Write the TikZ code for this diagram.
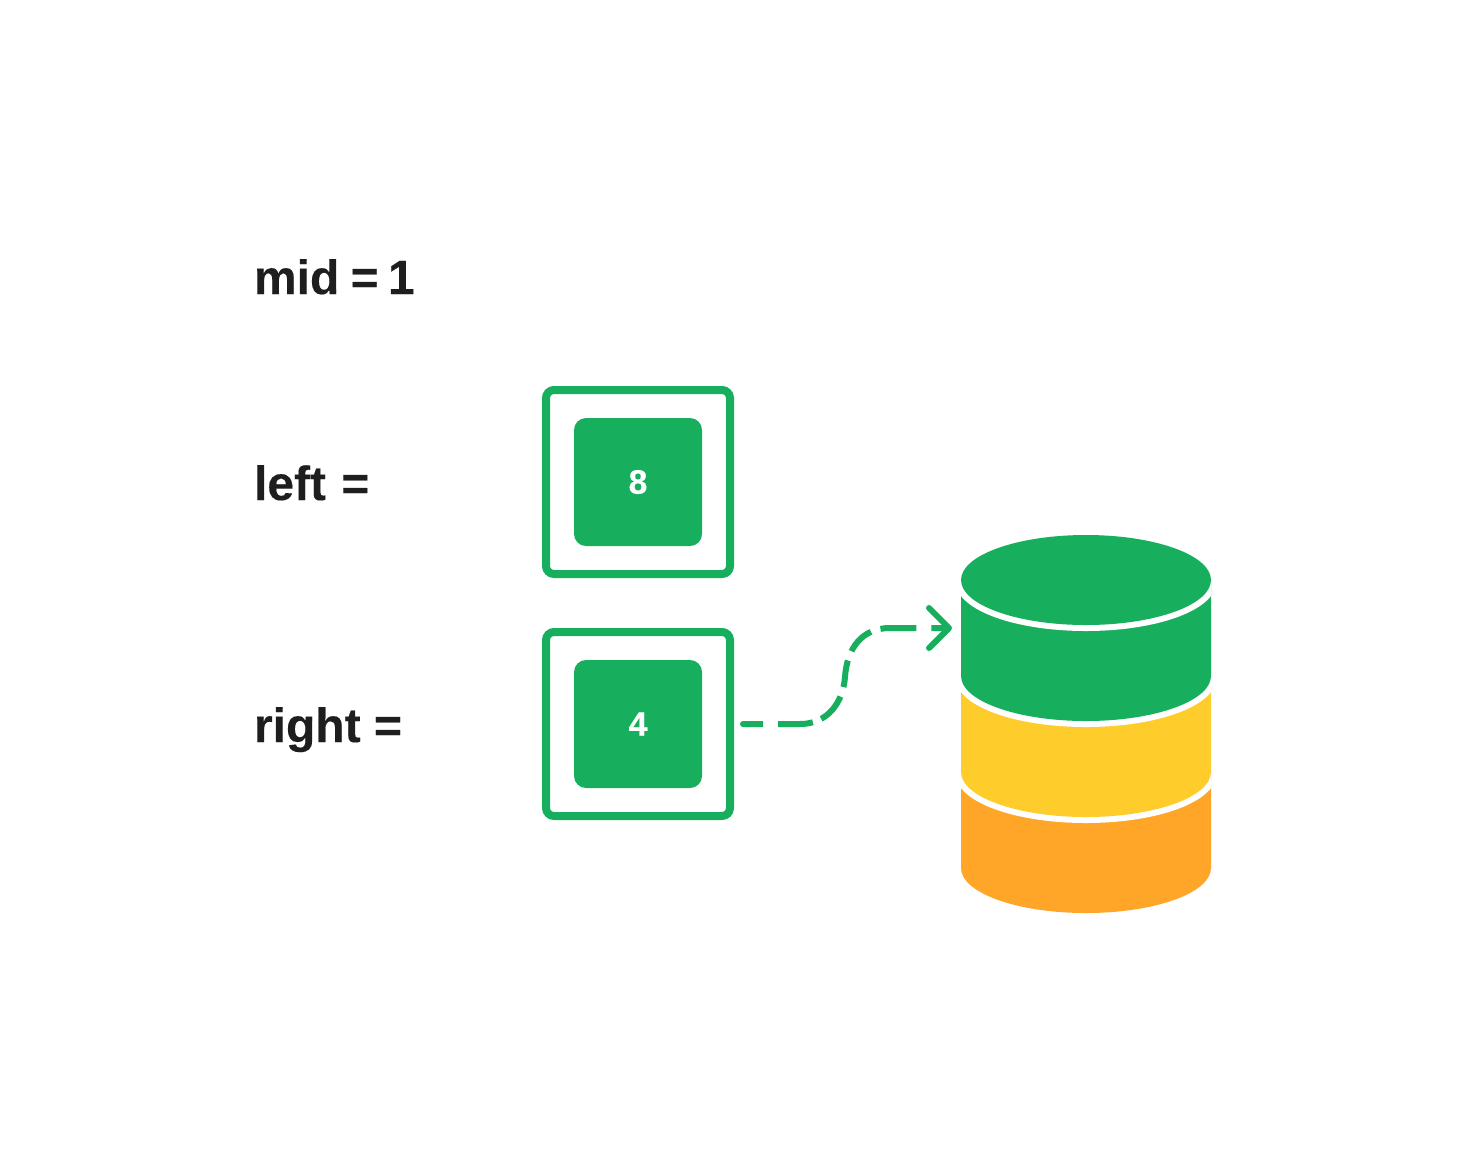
\documentclass[tikz,border=0pt]{standalone}
\usepackage{fontspec}
\setmainfont{Liberation Sans}[BoldFeatures={FakeBold=0.25}]
\usetikzlibrary{arrows.meta}
\definecolor{gr}{HTML}{17AF5E}
\definecolor{yl}{HTML}{FFCD2B}
\definecolor{orng}{HTML}{FFA629}
\definecolor{ink}{HTML}{1E1E1E}
\tikzset{
  lbl/.style={anchor=base west,inner sep=0pt,outer sep=0pt,text=ink,font=\fontsize{48}{48}\selectfont\bfseries},
  outerbox/.style={draw=gr,line width=8pt,rounded corners=8pt,minimum size=184pt,inner sep=0pt},
  innerbox/.style={fill=gr,rounded corners=12pt,minimum size=128pt,inner sep=0pt,outer sep=0pt,text=white,font=\fontsize{34}{34}\selectfont\bfseries},
  halo/.style={line width=12pt,draw=white}
}
\newcommand{\cylbody}[3]{%
  \draw[halo] (961,#2) -- (961,#3) arc[start angle=180,end angle=0,x radius=125,y radius=45] -- (1211,#2) -- cycle;
  \fill[#1] (961,#2) -- (961,#3) arc[start angle=180,end angle=0,x radius=125,y radius=45] -- (1211,#2) -- cycle;}
\begin{document}
\begin{tikzpicture}[x=1pt,y=-1pt]
\useasboundingbox (0,0) rectangle (1470,1171);
\node[lbl] (mid) at (254,294) {mid\hspace{-2pt} =\hspace{-4pt} 1};
\node[lbl] (left) at (254,500) {left\hspace{2pt} =};
\node[lbl] (right) at (254,742) {right =};
\node[outerbox] (o8) at (638,482) {};
\node[innerbox] (i8) at (638,482) {8};
\node[outerbox] (o4) at (638,724) {};
\node[innerbox] (i4) at (638,724) {4};
\begin{scope}
\clip (961,520) rectangle (1211,930);
\cylbody{orng}{772}{868}
\cylbody{yl}{676}{772}
\cylbody{gr}{580}{676}
\draw[halo] (1086,580) ellipse[x radius=125,y radius=45];
\fill[gr] (1086,580) ellipse[x radius=125,y radius=45];
\end{scope}
\coordinate (cyl) at (961,628);
\draw[gr,line width=6pt,dash pattern=on 17pt off 15pt on 35pt off 9pt on 30pt off 10pt on 27pt off 10pt on 28pt off 10pt on 36pt off 15pt on 40pt,
  {Round Cap[]}-{Straight Barb[length=20pt,width=40pt,line width=6pt,round]}]
  ([xshift=6pt]o4.east) -- (800,724)
  .. controls (828,724) and (843,702) .. (845,677)
  .. controls (847,648) and (862,628) .. (890,628)
  -- ([xshift=-9pt]cyl);
\end{tikzpicture}
\end{document}
